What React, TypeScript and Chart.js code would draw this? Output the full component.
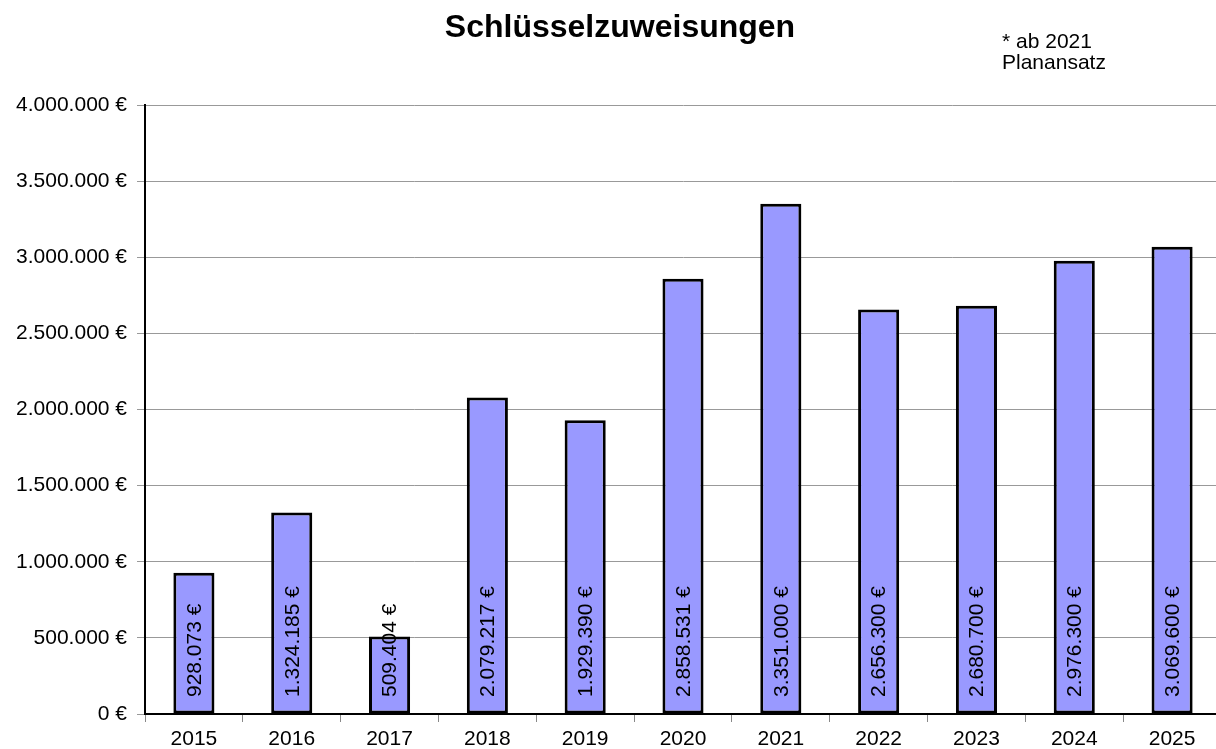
import React, { useEffect, useRef } from "react";
import { Chart, registerables } from "chart.js";

Chart.register(...registerables);

const years = ["2015", "2016", "2017", "2018", "2019", "2020", "2021", "2022", "2023", "2024", "2025"];
const amounts = [928073, 1324185, 509404, 2079217, 1929390, 2858531, 3351000, 2656300, 2680700, 2976300, 3069600];
const chartTitle = "Schlüsselzuweisungen";
const noteLines = ["* ab 2021", "Planansatz"];

const FONT = '"Liberation Sans", Arial, Helvetica, sans-serif';

function fmt(v: number): string {
  const s = Math.round(v).toString();
  return s.replace(/\B(?=(\d{3})+(?!\d))/g, ".") + " €";
}

const textPlugin = {
  id: "textPlugin",
  afterDatasetsDraw(chart: any) {
    const ctx = chart.ctx;
    const meta = chart.getDatasetMeta(0);
    const yScale = chart.scales.y;
    ctx.save();
    ctx.fillStyle = "#000";
    ctx.font = `21px ${FONT}`;
    ctx.textAlign = "left";
    ctx.textBaseline = "middle";
    meta.data.forEach((bar: any, i: number) => {
      const base = yScale.getPixelForValue(0);
      ctx.save();
      ctx.translate(bar.x, base - 17);
      ctx.rotate(-Math.PI / 2);
      ctx.fillText(fmt(amounts[i]), 0, 1);
      ctx.restore();
    });
    ctx.restore();
  },
  afterDraw(chart: any) {
    const ctx = chart.ctx;
    ctx.save();
    ctx.fillStyle = "#000";
    ctx.font = `bold 32px ${FONT}`;
    ctx.textAlign = "center";
    ctx.textBaseline = "alphabetic";
    ctx.fillText(chartTitle, 620, 37);
    ctx.font = `21px ${FONT}`;
    ctx.textAlign = "left";
    ctx.fillText(noteLines[0], 1002, 48);
    ctx.fillText(noteLines[1], 1002, 69);
    ctx.restore();
  },
};

export default function App() {
  const ref = useRef<HTMLCanvasElement | null>(null);
  useEffect(() => {
    if (!ref.current) return;
    const chart = new Chart(ref.current, {
      type: "bar",
      data: {
        labels: years,
        datasets: [
          {
            data: amounts,
            backgroundColor: "#9999FF",
            borderColor: "#000000",
            borderWidth: 3,
            borderSkipped: false,
            barPercentage: 0.42,
            categoryPercentage: 1,
          },
        ],
      },
      options: {
        responsive: false,
        animation: false,
        devicePixelRatio: 1,
        layout: { padding: { top: 105, left: 0, right: 0, bottom: 0 } },
        plugins: { legend: { display: false }, tooltip: { enabled: false }, title: { display: false } },
        scales: {
          x: {
            afterFit: (s: any) => {
              s.height = 35;
            },
            grid: { offset: true, drawOnChartArea: false, drawTicks: true, tickLength: 8, color: "#888", lineWidth: 1 },
            border: { display: true, color: "#000", width: 2 },
            ticks: { color: "#000", font: { family: FONT, size: 21 }, padding: 5, maxRotation: 0 },
          },
          y: {
            min: 0,
            max: 4000000,
            afterFit: (s: any) => {
              s.width = 145;
            },
            grid: { color: "#999", lineWidth: 1, tickLength: 8, drawTicks: true },
            border: { display: true, color: "#000", width: 2 },
            ticks: {
              stepSize: 500000,
              color: "#000",
              padding: 10,
              font: { family: FONT, size: 21 },
              callback: (v: any) => fmt(Number(v)),
            },
          },
        },
      },
      plugins: [textPlugin],
    });
    return () => chart.destroy();
  }, []);
  return (
    <div style={{ position: "fixed", left: 0, top: 0, width: 1216, height: 749, overflow: "hidden", background: "#fff" }}>
      <canvas ref={ref} width={1221} height={749} style={{ display: "block", width: 1221, height: 749 }} />
    </div>
  );
}
